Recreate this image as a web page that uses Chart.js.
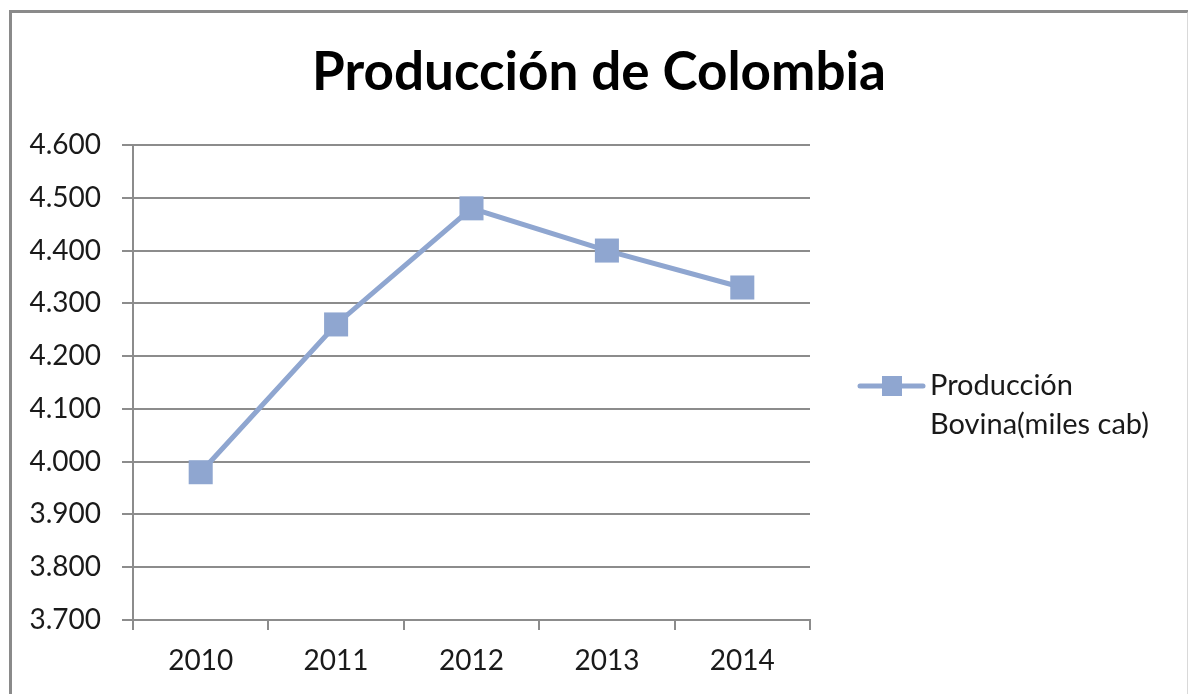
<!DOCTYPE html>
<html>
<head>
<meta charset="utf-8">
<script src="https://cdn.jsdelivr.net/npm/chart.js@4.4.1/dist/chart.umd.min.js"></script>
<style>
    html, body { margin: 0; padding: 0; background: #fff; }
    #wrap { position: absolute; left: 0; top: 0; width: 1188px; height: 694px; }
    #frame {
        position: absolute; left: 9px; top: 10px; width: 1175px; height: 700px;
        border-left: 3px solid #8a8a8a; border-top: 3px solid #8a8a8a; border-right: 2px solid #d9d9d9;
    }
</style>
</head>
<body>
<div id="wrap">
    <canvas id="chartContainer" width="1188" height="694"></canvas>
    <div id="frame"></div>
</div>
<script>
// Data
const years = ['2010', '2011', '2012', '2013', '2014'];
const produccionBovina = [3980, 4260, 4480, 4400, 4330];
const seriesLabel = ['Producción', 'Bovina(miles cab)'];
const chartTitle = 'Producción de Colombia';
const yMin = 3700;
const yMax = 4600;
const yStep = 100;

const FONT = 'Lato, Carlito, Calibri, sans-serif';
const LINE_COLOR = '#8fa6d0';
const GRID_COLOR = '#8c8c8c';
const TEXT_COLOR = '#1a1a1a';

// Title centred over the whole frame, and the legend at the right with its label on two lines
const frameDecor = {
    id: 'frameDecor',
    afterDraw(chart) {
        const ctx = chart.ctx;
        const ds = chart.data.datasets[0];
        ctx.save();

        ctx.fillStyle = '#000';
        ctx.font = 'bold 53px ' + FONT;
        ctx.textAlign = 'center';
        ctx.textBaseline = 'alphabetic';
        ctx.fillText(chartTitle, 599, 90);

        const x0 = 858, y0 = 386;
        ctx.strokeStyle = ds.borderColor;
        ctx.lineWidth = 5;
        ctx.lineCap = 'round';
        ctx.beginPath();
        ctx.moveTo(x0 + 2, y0);
        ctx.lineTo(x0 + 65, y0);
        ctx.stroke();
        ctx.fillStyle = ds.backgroundColor;
        ctx.fillRect(x0 + 24, y0 - 10, 20, 20);

        ctx.fillStyle = TEXT_COLOR;
        ctx.font = '29px ' + FONT;
        ctx.textBaseline = 'middle';
        ctx.textAlign = 'left';
        seriesLabel.forEach(function (line, i) {
            ctx.fillText(line, 930, y0 + i * 39);
        });
        ctx.restore();
    }
};

document.addEventListener('DOMContentLoaded', function () {
    const ctx = document.getElementById('chartContainer').getContext('2d');
    new Chart(ctx, {
        type: 'line',
        data: {
            labels: years,
            datasets: [{
                label: seriesLabel.join(' '),
                data: produccionBovina,
                borderColor: LINE_COLOR,
                backgroundColor: LINE_COLOR,
                borderWidth: 5,
                pointStyle: 'rect',
                pointRadius: 17,
                pointBorderWidth: 0,
                pointBackgroundColor: LINE_COLOR,
                tension: 0
            }]
        },
        options: {
            responsive: false,
            animation: false,
            layout: {
                padding: { left: 10, right: 378, top: 145, bottom: 0 }
            },
            scales: {
                x: {
                    offset: true,
                    grid: {
                        offset: true,
                        drawOnChartArea: false,
                        drawTicks: true,
                        tickLength: 10,
                        color: GRID_COLOR,
                        tickColor: GRID_COLOR,
                        lineWidth: 2
                    },
                    border: { display: true, color: GRID_COLOR, width: 2 },
                    ticks: {
                        color: TEXT_COLOR,
                        font: { family: FONT, size: 28 },
                        padding: 14
                    },
                    afterFit: function (scale) { scale.height = 74; }
                },
                y: {
                    min: yMin,
                    max: yMax,
                    grid: {
                        color: GRID_COLOR,
                        tickColor: GRID_COLOR,
                        tickLength: 11,
                        lineWidth: 2
                    },
                    border: { display: true, color: GRID_COLOR, width: 2 },
                    ticks: {
                        stepSize: yStep,
                        color: TEXT_COLOR,
                        font: { family: FONT, size: 28 },
                        padding: 21,
                        callback: function (v) {
                            return v.toLocaleString('es-ES', { useGrouping: 'always' }).replace(/\s/g, '.');
                        }
                    },
                    afterFit: function (scale) { scale.width = 123; }
                }
            },
            plugins: {
                legend: { display: false },
                tooltip: { enabled: false },
                title: { display: false }
            }
        },
        plugins: [frameDecor]
    });
});
</script>
</body>
</html>
